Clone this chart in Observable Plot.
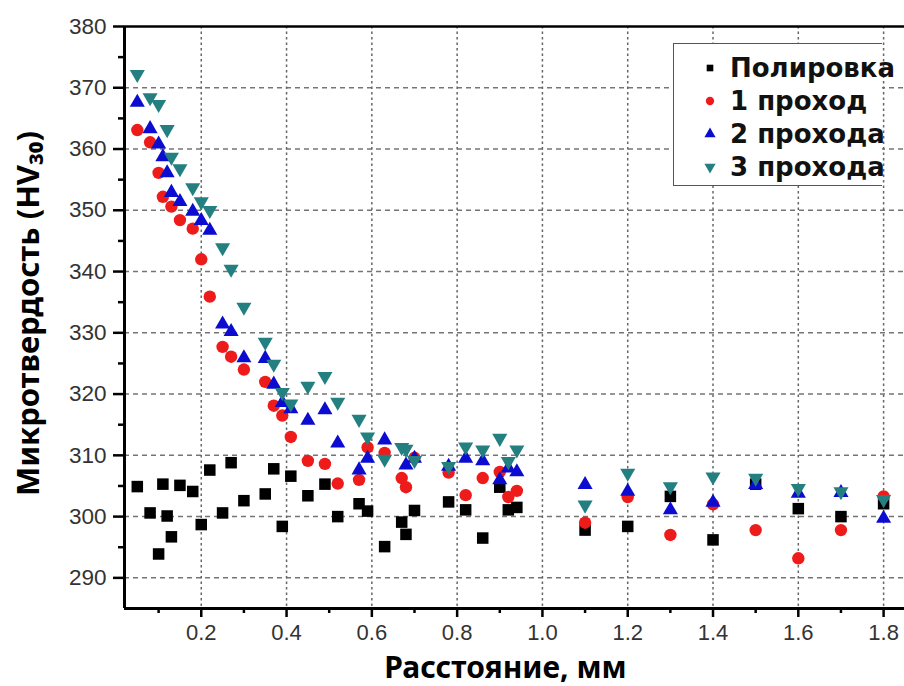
<!DOCTYPE html>
<html>
<head>
<meta charset="utf-8">
<script src="https://cdn.jsdelivr.net/npm/d3@7"></script>
<script src="https://cdn.jsdelivr.net/npm/@observablehq/plot@0.6"></script>
<style>
  html, body { margin: 0; padding: 0; background: #fff; }
  #chart { position: relative; width: 904px; height: 686px; overflow: hidden; }
  #legend {
    position: absolute; left: 673px; top: 43px; width: 208px; height: 141px;
    background: #fff; border-top: 1.5px solid #555; border-left: 1.5px solid #555;
    border-bottom: 1.5px solid #555;
    font-family: "DejaVu Sans", sans-serif; font-weight: 700; font-size: 26px; color: #111;
  }
  #legend .row { position: absolute; left: 0; height: 33px; display: flex; align-items: center; white-space: nowrap; }
  #legend .row span { display: block; line-height: 30px; height: 30px; }
  #legend svg { width: 24px; height: 20px; margin-left: 24px; margin-right: 8px; }
</style>
</head>
<body>
<div id="chart"></div>
<script>
// Microhardness HV30 versus distance from the surface, mm
const polish = [
  [0.05, 304.9], [0.08, 300.6], [0.10, 293.9], [0.11, 305.3], [0.12, 300.1],
  [0.13, 296.7], [0.15, 305.1], [0.18, 304.1], [0.20, 298.7], [0.22, 307.6],
  [0.25, 300.6], [0.27, 308.8], [0.30, 302.6], [0.35, 303.7], [0.37, 307.8],
  [0.39, 298.4], [0.41, 306.6], [0.45, 303.4], [0.49, 305.3], [0.52, 300.0],
  [0.57, 302.1], [0.59, 300.9], [0.63, 295.1], [0.67, 299.1], [0.68, 297.1],
  [0.70, 301.0], [0.78, 302.4], [0.82, 301.1], [0.86, 296.5], [0.90, 304.8],
  [0.92, 301.1], [0.94, 301.5], [1.10, 297.8], [1.20, 298.4], [1.30, 303.3],
  [1.40, 296.2], [1.50, 305.3], [1.60, 301.3], [1.70, 300.0], [1.80, 302.1]
];
const pass1 = [
  [0.05, 363.1], [0.08, 361.1], [0.10, 356.1], [0.11, 352.2], [0.13, 350.6],
  [0.15, 348.4], [0.18, 347.0], [0.20, 342.0], [0.22, 335.9], [0.25, 327.7],
  [0.27, 326.1], [0.30, 324.0], [0.35, 322.0], [0.37, 318.1], [0.39, 316.5],
  [0.41, 313.0], [0.45, 309.1], [0.49, 308.6], [0.52, 305.4], [0.57, 306.0],
  [0.59, 311.3], [0.63, 310.4], [0.67, 306.3], [0.68, 304.8], [0.70, 309.6],
  [0.78, 307.2], [0.82, 303.5], [0.86, 306.3], [0.90, 307.3], [0.92, 303.2],
  [0.94, 304.2], [1.10, 299.0], [1.20, 303.2], [1.30, 297.0], [1.40, 302.0],
  [1.50, 297.8], [1.60, 293.2], [1.70, 297.8], [1.80, 303.3]
];
const pass2 = [
  [0.05, 367.6], [0.08, 363.3], [0.10, 360.8], [0.11, 358.7], [0.12, 356.1],
  [0.13, 352.9], [0.15, 351.4], [0.18, 349.8], [0.20, 348.3], [0.22, 346.7],
  [0.25, 331.4], [0.27, 330.2], [0.30, 325.9], [0.35, 325.8], [0.37, 321.6],
  [0.39, 318.6], [0.41, 317.6], [0.45, 315.7], [0.49, 317.4], [0.52, 312.0],
  [0.57, 307.6], [0.59, 309.5], [0.63, 312.5], [0.68, 308.4], [0.70, 309.5],
  [0.78, 308.2], [0.82, 309.5], [0.86, 309.1], [0.90, 306.0], [0.92, 307.9],
  [0.94, 307.3], [1.10, 305.2], [1.20, 304.1], [1.30, 301.1], [1.40, 302.3],
  [1.50, 305.2], [1.60, 303.8], [1.70, 303.9], [1.80, 299.7]
];
const pass3 = [
  [0.05, 372.2], [0.08, 368.4], [0.10, 367.3], [0.12, 363.2], [0.13, 358.7],
  [0.15, 356.8], [0.18, 353.7], [0.20, 351.4], [0.22, 350.0], [0.25, 343.9],
  [0.27, 340.4], [0.30, 334.2], [0.35, 328.5], [0.37, 324.9], [0.39, 320.3],
  [0.41, 318.4], [0.45, 321.3], [0.49, 322.9], [0.52, 318.7], [0.57, 315.9],
  [0.59, 313.0], [0.63, 309.4], [0.67, 311.3], [0.68, 311.0], [0.70, 309.2],
  [0.78, 308.2], [0.82, 311.4], [0.86, 310.9], [0.90, 312.8], [0.92, 309.0],
  [0.94, 310.9], [1.10, 301.9], [1.20, 307.1], [1.30, 304.9], [1.40, 306.5],
  [1.50, 306.3], [1.60, 304.6], [1.70, 304.1], [1.80, 302.8]
];

const seriesNames = ["Полировка", "1 проход", "2 прохода", "3 прохода"];
const xMajor = [0.2, 0.4, 0.6, 0.8, 1.0, 1.2, 1.4, 1.6, 1.8];
const xMinor = [0.1, 0.3, 0.5, 0.7, 0.9, 1.1, 1.3, 1.5, 1.7];
const yMajor = [290, 300, 310, 320, 330, 340, 350, 360, 370, 380];
const yMinor = [295, 305, 315, 325, 335, 345, 355, 365, 375];
const xDomain = [0.02, 1.849];
const yDomain = [285, 380];
const xTitle = "Расстояние, мм";
const yTitle = "Микротвердость (HV₃₀)";

const colors = {polish: "#000000", pass1: "#ee1b1b", pass2: "#0c0cd0", pass3: "#247f80"};
const boldFont = "'Noto Sans', sans-serif";

const chart = Plot.plot({
  width: 904,
  height: 686,
  marginLeft: 124,
  marginRight: 0,
  marginTop: 26,
  marginBottom: 78,
  style: {fontFamily: "'Liberation Sans', Arial, sans-serif", background: "#fff", color: "#000"},
  x: {domain: xDomain},
  y: {domain: yDomain},
  marks: [
    Plot.gridX(xMajor, {stroke: "#555", strokeOpacity: 0.9, strokeWidth: 1.5, strokeDasharray: "2.5,3"}),
    Plot.gridY(yMajor.filter(v => v < yDomain[1]), {stroke: "#666", strokeOpacity: 0.9, strokeWidth: 1.5, strokeDasharray: "5,4"}),
    Plot.axisY(yMajor, {tickSize: 11, tickPadding: 7, strokeWidth: 2.5, stroke: "#000", fill: "#333", fontSize: 22.5, label: null, tickFormat: d => d}),
    Plot.axisY(yMinor, {tickSize: 6, strokeWidth: 2.5, stroke: "#000", fill: "none", label: null}),
    Plot.axisX(xMajor, {tickSize: 9, tickPadding: 7, strokeWidth: 2.5, stroke: "#000", fill: "#333", fontSize: 22, label: null, tickFormat: d => d.toFixed(1)}),
    Plot.axisX(xMinor, {tickSize: 5, strokeWidth: 2.5, stroke: "#000", fill: "none", label: null}),
    Plot.ruleX([xDomain[0]], {stroke: "#000", strokeWidth: 3}),
    Plot.ruleY([yDomain[0]], {stroke: "#000", strokeWidth: 3}),
    Plot.ruleY([yDomain[1]], {stroke: "#000", strokeWidth: 2.5}),
    Plot.dot(polish, {x: d => d[0], y: d => d[1], symbol: "square", r: 6.5, fill: colors.polish}),
    Plot.dot(pass1, {x: d => d[0], y: d => d[1], symbol: "circle", r: 6.2, fill: colors.pass1}),
    Plot.dot(pass2, {x: d => d[0], y: d => d[1], symbol: "triangle", r: 5.6, fill: colors.pass2}),
    Plot.dot(pass3, {x: d => d[0], y: d => d[1], symbol: "triangle", rotate: 180, r: 5.6, fill: colors.pass3}),
    Plot.text([xTitle], {frameAnchor: "bottom", textAnchor: "middle", dx: -9, dy: 69, fontSize: 30, fontWeight: 700, fontFamily: boldFont, fill: "#000"}),
    Plot.text([yTitle], {frameAnchor: "left", textAnchor: "middle", dx: -95, dy: -4, rotate: -90, fontSize: 31, fontWeight: 700, fontFamily: boldFont, fill: "#000"})
  ]
});

const root = document.getElementById("chart");
root.appendChild(chart);

// Legend box drawn over the upper-right corner of the plot
const legend = document.createElement("div");
legend.id = "legend";
const symbolPaths = [
  d3.symbol(d3.symbolSquare, 44)(),
  d3.symbol(d3.symbolCircle, 54)(),
  d3.symbol(d3.symbolTriangle, 54)(),
  d3.symbol(d3.symbolTriangle, 54)()
];
const legendColors = [colors.polish, colors.pass1, colors.pass2, colors.pass3];
seriesNames.forEach((name, i) => {
  const row = document.createElement("div");
  row.className = "row";
  row.style.top = (7 + i * 33) + "px";
  const rot = i === 3 ? " rotate(180)" : "";
  row.innerHTML = `<svg viewBox="-12 -10 24 20"><path d="${symbolPaths[i]}" fill="${legendColors[i]}" transform="translate(0,0)${rot}"/></svg><span>${name}</span>`;
  legend.appendChild(row);
});
root.appendChild(legend);
</script>
</body>
</html>
